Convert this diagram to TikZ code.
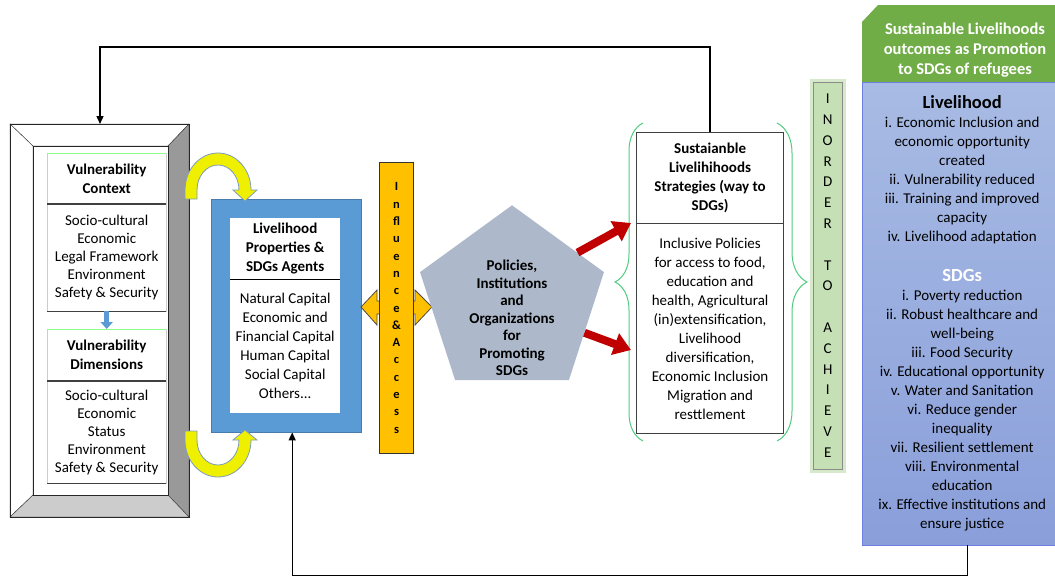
\documentclass[tikz,border=0pt]{standalone}
\usepackage{fontspec}
\setmainfont{Carlito}
\usetikzlibrary{arrows.meta,shapes.geometric,decorations.pathreplacing}

\definecolor{orng}{HTML}{FFC000}
\definecolor{livblue}{HTML}{5B9BD5}
\definecolor{polgray}{HTML}{ADB9CA}
\definecolor{darkred}{HTML}{C00000}
\definecolor{hdrgreen}{HTML}{70AD47}
\definecolor{achgreen}{HTML}{C5E0B4}
\definecolor{bracegreen}{HTML}{4FCB7F}
\definecolor{paneltop}{HTML}{A8BBE4}
\definecolor{panelbot}{HTML}{8A9FDA}
\definecolor{yarrow}{HTML}{EFEF00}
\definecolor{yedge}{HTML}{7F9DBF}

\tikzset{
  box/.style={anchor=north west, inner sep=0pt, align=center, fill=white, draw=black!20},
  txt/.style={font=\fontsize{15}{18}\selectfont},
  txtb/.style={font=\fontsize{15}{19}\selectfont},
  ttl/.style={font=\fontsize{15}{19}\selectfont\bfseries},
  rule/.style={draw=black!75, line width=1.3pt},
  fb/.style={draw=black, line width=1.4pt, -{Triangle[length=8pt,width=7pt]}},
  redarr/.style={draw=darkred, line width=8pt, -{Triangle[length=17pt,width=22pt]}},
  brc/.style={draw=bracegreen, line width=1pt, decorate},
  yarr/.style={fill=yarrow, draw=yedge, line width=0.8pt},
}

\begin{document}
\begin{tikzpicture}[x=1pt,y=-1pt]
\useasboundingbox (0,0) rectangle (1055,576);

% vulnerability frame
\filldraw[draw=black!80, fill=white] (10,124) -- (189,124) -- (168,146) -- (33,146) -- cycle;
\filldraw[draw=black!80, fill=white] (10,124) -- (33,146) -- (33,495) -- (10,517) -- cycle;
\filldraw[draw=black!80, fill=black!40] (189,124) -- (189,517) -- (168,495) -- (168,146) -- cycle;
\filldraw[draw=black!80, fill=black!20] (10,517) -- (189,517) -- (168,495) -- (33,495) -- cycle;
\node[anchor=north west, minimum width=179pt, minimum height=393pt, inner sep=0pt, draw=black!85, line width=1pt] (vfrm) at (10,124) {};
\draw[black!85, line width=1pt, fill=white] (33,146) rectangle (168,495);

\node[box, ttl, minimum width=119pt, minimum height=51pt] (vctxt) at (47,153) {Vulnerability\\Context};
\node[box, txt, minimum width=119pt, minimum height=107pt] (vcont) at (47,204) {Socio-cultural\\Economic\\Legal Framework\\Environment\\Safety \& Security};
\node[box, ttl, minimum width=119pt, minimum height=52pt] (vdimt) at (47,329) {Vulnerability\\Dimensions};
\node[box, txt, minimum width=119pt, minimum height=102pt] (vdim) at (47,381) {Socio-cultural\\Economic\\Status\\Environment\\Safety \& Security};
\draw[green!45!white, line width=1pt] (vctxt.north west) -- (vctxt.north east);
\draw[green!45!white, line width=1pt] (vdimt.north west) -- (vdimt.north east);
\draw[rule] (vcont.north west) -- (vcont.north east);
\draw[rule] (vcont.south west) -- (vcont.south east);
\draw[rule] (vdim.north west) -- (vdim.north east);
\draw[rule] (vdim.south west) -- (vdim.south east);
\draw[draw=livblue, line width=5pt, -{Triangle[length=7pt,width=12pt]}] (vcont.south) -- (vdimt.north);

% livelihood properties
\node[anchor=north west, minimum width=150pt, minimum height=233pt, inner sep=0pt, fill=livblue, draw=livblue!80!black] (liv) at (211,199) {};
\node[box, ttl, draw=none, minimum width=110pt, minimum height=61pt] (livt) at (230,218) {Livelihood\\Properties \&\\SDGs Agents};
\node[box, txtb, draw=none, minimum width=110pt, minimum height=134pt] (livc) at (230,279) {Natural Capital\\Economic and\\Financial Capital\\Human Capital\\Social Capital\\Others...};
\draw[black, line width=1pt] (livt.south west) -- (livt.south east);

% curved yellow arrows
\filldraw[yarr] (185,199) -- (185,190) arc[start angle=180, end angle=360, x radius=33, y radius=37]
  -- (257,190) -- (245,201) -- (233,190) -- (239,190)
  arc[start angle=360, end angle=180, x radius=21, y radius=25] -- (197,190) -- (197,199) -- cycle;
\filldraw[yarr] (185,431) -- (185,440) arc[start angle=180, end angle=0, x radius=33, y radius=37]
  -- (257,440) -- (245,430) -- (233,440) -- (239,440)
  arc[start angle=0, end angle=180, x radius=21, y radius=25] -- (197,440) -- (197,431) -- cycle;

% influence and access
\filldraw[fill=orng, draw=black!70, line width=0.8pt] (361,307) -- (377,290) -- (377,301) -- (415,301) -- (415,290) -- (432,307)
  -- (415,325) -- (415,314) -- (377,314) -- (377,325) -- cycle;
\node[anchor=north west, minimum width=34pt, minimum height=291pt, inner sep=0pt, fill=orng, draw=black!80, line width=1pt,
  align=center, font=\fontsize{12.5}{17.3}\selectfont\bfseries] (acc) at (379,162)
  {I\\n\\fl\\u\\e\\n\\c\\e\\\&\\A\\c\\c\\e\\s\\s};

% policies pentagon
\node[regular polygon, regular polygon sides=5, minimum size=193.4pt, inner sep=0pt, fill=polgray] (pol) at (512,302) {};
\node[font=\fontsize{15}{17.5}\selectfont\bfseries, align=center] (poltxt) at (512,318) {Policies,\\Institutions\\and\\Organizations\\for\\Promoting\\SDGs};

% strategies
\node[box, ttl, draw=black!75, line width=1.2pt, minimum width=147pt, minimum height=91pt] (strt) at (636,132) {Sustaianble\\Livelihihoods\\Strategies (way to\\SDGs)};
\node[box, txtb, draw=black!75, line width=1.2pt, minimum width=147pt, minimum height=210pt] (strc) at (636,223) {Inclusive Policies\\for access to food,\\education and\\health, Agricultural\\(in)extensification,\\Livelihood\\diversification,\\Economic Inclusion\\Migration and\\resttlement};
\draw[brc, decoration={brace, amplitude=28pt}] (643,441) -- (643,123);
\draw[brc, decoration={brace, amplitude=30pt}] (777,123) -- (777,441);

\coordinate (ra) at (631,223);
\coordinate (rb) at (631,350);
\draw[redarr] (pol.37) -- (ra);
\draw[redarr] (pol.-23) -- (rb);

% in order to achieve
\node[anchor=north west, minimum width=29pt, minimum height=387pt, inner sep=0pt, fill=achgreen, draw=black!45,
  preaction={draw=achgreen!70, line width=7pt}, align=center, font=\fontsize{15}{20.8}\selectfont] (ach) at (813,82)
  {I\\N\\O\\R\\D\\E\\R\\[20.8pt]T\\O\\[20.8pt]A\\C\\H\\I\\E\\V\\E};

% outcomes
\fill[hdrgreen] (862,22) -- (878,5) -- (1060,5) -- (1060,82) -- (862,82) -- cycle;
\node[font=\fontsize{16.5}{20}\selectfont\bfseries, text=white, align=center] (outt) at (965,50) {Sustainable Livelihoods\\outcomes as Promotion\\to SDGs of refugees};
\node[anchor=north west, minimum width=200pt, minimum height=463pt, inner sep=0pt, top color=paneltop, bottom color=panelbot,
  draw=panelbot!80!blue, align=center, txtb] (outbox) at (862,82)
  {{\fontsize{18.5}{22}\selectfont\bfseries Livelihood}\\
   i. Economic Inclusion and\\economic opportunity\\created\\ii. Vulnerability reduced\\iii. Training and improved\\capacity\\iv. Livelihood adaptation\\[21pt]
   {\fontsize{18.5}{22}\selectfont\bfseries\color{white}SDGs}\\
   i. Poverty reduction\\ii. Robust healthcare and\\well-being\\iii. Food Security\\iv. Educational opportunity\\v. Water and Sanitation\\vi. Reduce gender\\inequality\\vii. Resilient settlement\\viii. Environmental\\education\\ix. Effective institutions and\\ensure justice};

% feedback loops
\draw[fb] (strt.north) -- ++(0,-85) -| (vfrm.north);
\draw[fb] ([xshift=5pt]outbox.south) -- ++(0,30) -| ([xshift=6pt]liv.south);
\end{tikzpicture}
\end{document}
